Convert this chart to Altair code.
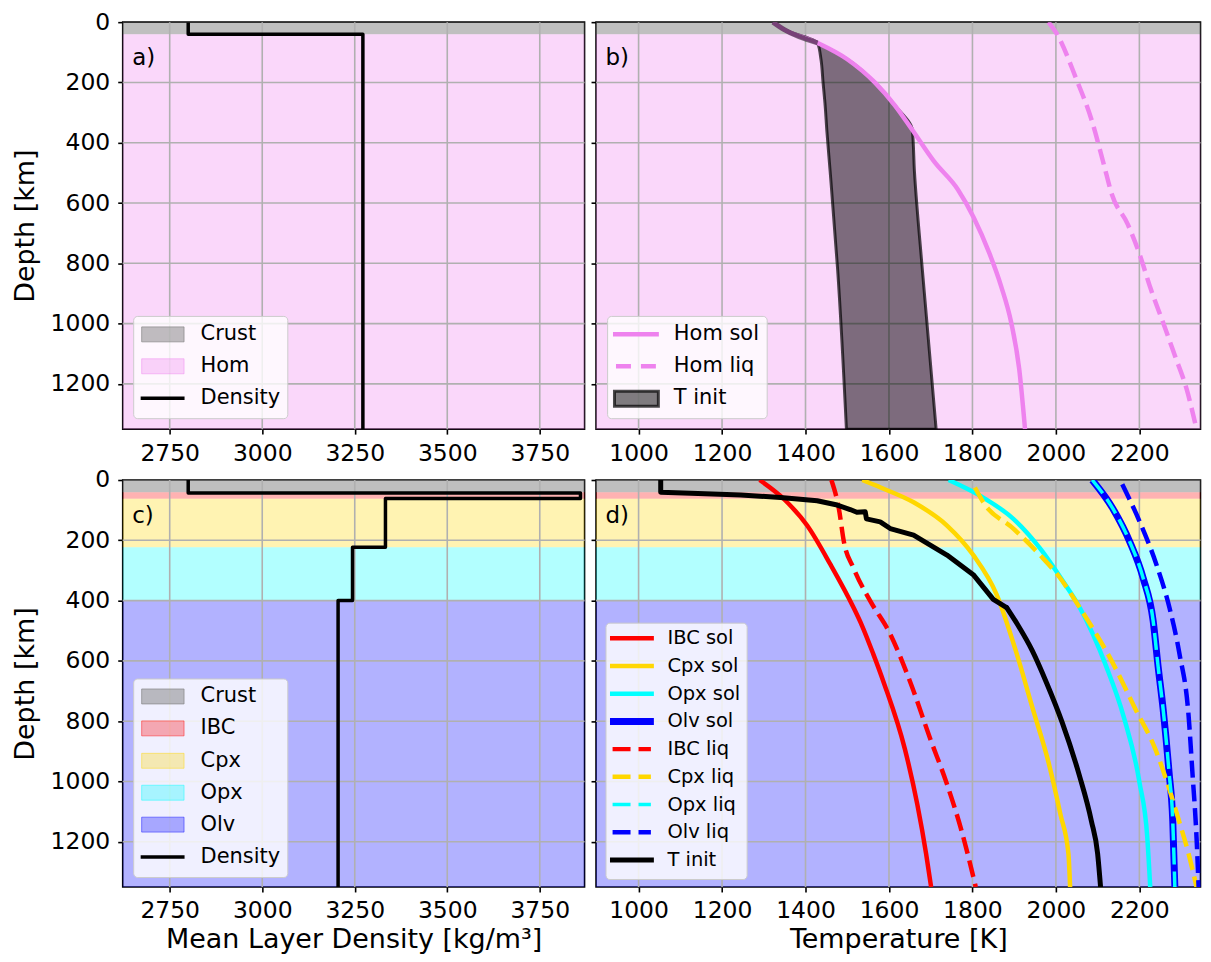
import altair as alt
import pandas as pd

FONT = "DejaVu Sans"
W_L, W_R, H = 463, 606, 408

# ---------------- axes ----------------
Y_DOMAIN = [0, 1350]
Y_TICKS = [0, 200, 400, 600, 800, 1000, 1200]
RHO_DOMAIN = [2623, 3871]
RHO_TICKS = [2750, 3000, 3250, 3500, 3750]
T_DOMAIN = [898, 2346.5]
T_TICKS = [1000, 1200, 1400, 1600, 1800, 2000, 2200]

# ---------------- layer bands ----------------
HOM_NAMES = ["Crust", "Hom"]
HOM_TOP = [0, 40]
HOM_BOT = [40, 1350]

CUM_NAMES = ["Crust", "IBC", "Cpx", "Opx", "Olv"]
CUM_TOP = [0, 41, 62, 223, 399]
CUM_BOT = [41, 62, 223, 399, 1350]

# ---------------- density profiles ----------------
DENS_A_DEPTH = [0, 40, 40, 1350]
DENS_A_RHO = [2800, 2800, 3272, 3272]

DENS_C_DEPTH = [0, 43, 43, 61, 61, 223, 223, 400, 400, 1350]
DENS_C_RHO = [2800, 2800, 3860, 3860, 3333, 3333, 3244, 3244, 3205, 3205]

# ---------------- panel b ----------------
HOM_SOL_DEPTH = [0, 25, 69, 123, 200, 276, 358, 462, 555, 648, 768, 877, 997, 1150, 1350]
HOM_SOL_T = [1322, 1349, 1429, 1500, 1566, 1614, 1656, 1708, 1765, 1803, 1841, 1869, 1893, 1912, 1926]

HOM_LIQ_DEPTH = [0, 36, 189, 331, 473, 571, 670, 768, 888, 997, 1106, 1216, 1350]
HOM_LIQ_T = [1982, 2001, 2049, 2087, 2115, 2134, 2172, 2200, 2228, 2257, 2285, 2313, 2337]

TINIT_B_DEPTH = [0, 25, 69, 123, 200, 276, 358, 495, 822, 1350]
TINIT_B_LOW = [1322, 1349, 1429, 1437, 1442, 1447, 1451, 1459, 1477, 1498]
TINIT_B_HIGH = [1322, 1349, 1429, 1500, 1566, 1614, 1656, 1661, 1680, 1713]

# ---------------- panel d ----------------
IBC_SOL_DEPTH = [0, 63, 151, 281, 423, 482, 576, 674, 892, 1077, 1240, 1350]
IBC_SOL_T = [1290, 1348, 1404, 1460, 1515, 1535, 1562, 1588, 1638, 1668, 1689, 1701]

CPX_SOL_DEPTH = [0, 25, 74, 151, 249, 380, 576, 761, 935, 1110, 1240, 1350]
CPX_SOL_T = [1536, 1580, 1659, 1739, 1802, 1858, 1906, 1945, 1982, 2011, 2030, 2034]

OPX_SOL_DEPTH = [0, 52, 129, 227, 336, 423, 620, 783, 1001, 1186, 1350]
OPX_SOL_T = [1743, 1818, 1898, 1962, 2017, 2057, 2121, 2162, 2200, 2219, 2226]

OLV_SOL_DEPTH = [0, 96, 205, 325, 467, 620, 761, 968, 1131, 1350]
OLV_SOL_T = [2087, 2137, 2177, 2209, 2233, 2245, 2257, 2271, 2280, 2285]

IBC_LIQ_DEPTH = [0, 96, 205, 292, 401, 511, 674, 859, 1001, 1164, 1350]
IBC_LIQ_T = [1462, 1480, 1492, 1515, 1555, 1603, 1652, 1699, 1737, 1774, 1808]

CPX_LIQ_DEPTH = [25, 74, 161, 249, 325, 423, 609, 761, 892, 1001, 1131, 1240, 1350]
CPX_LIQ_T = [1806, 1826, 1898, 1962, 2010, 2057, 2137, 2191, 2238, 2266, 2295, 2318, 2337]

OPX_LIQ_DEPTH = [0, 96, 205, 325, 467, 620, 761, 968, 1131, 1350]
OPX_LIQ_T = [2087, 2137, 2177, 2209, 2233, 2245, 2257, 2271, 2280, 2285]

OLV_LIQ_DEPTH = [14, 139, 281, 423, 576, 783, 968, 1186, 1350]
OLV_LIQ_T = [2159, 2201, 2241, 2272, 2296, 2318, 2327, 2337, 2342]

TINIT_D_DEPTH = [0, 41, 44, 50, 58, 69, 83, 98, 107, 105, 129, 139, 161, 183, 249, 314,
                 396, 423, 477, 565, 674, 804, 979, 1131, 1240, 1350]
TINIT_D_T = [1053, 1053, 1125, 1245, 1340, 1428, 1476, 1507, 1523, 1543, 1546, 1579, 1603,
             1659, 1739, 1802, 1850, 1882, 1907, 1943, 1978, 2015, 2056, 2085, 2100, 2107]
TINIT_D_SPLIT = 17  # kink at the Opx/Olv boundary; the deeper part is a smooth curve

# ---------------- styles ----------------
BAND_COLOR = {"Crust": "#808080", "Hom": "#EE82EE", "IBC": "#FF0000",
              "Cpx": "#FFD700", "Opx": "#00FFFF", "Olv": "#0000FF"}
BAND_ALPHA = {"Crust": 0.5, "Hom": 0.32, "IBC": 0.3, "Cpx": 0.3, "Opx": 0.3, "Olv": 0.3}
DASH = [17, 7]

ONE = pd.DataFrame({"k": [0]})


def X(field, panel):
    if panel in ("a", "c"):
        dom, ticks = RHO_DOMAIN, RHO_TICKS
    else:
        dom, ticks = T_DOMAIN, T_TICKS
    title = {"a": None, "b": None, "c": "Mean Layer Density [kg/m³]", "d": "Temperature [K]"}[panel]
    return alt.X(field, type="quantitative",
                 scale=alt.Scale(domain=dom, nice=False, zero=False),
                 axis=alt.Axis(values=ticks, format="d"), title=title)


def Y(field, panel):
    sc = alt.Scale(domain=Y_DOMAIN, reverse=True, nice=False, zero=False)
    if panel in ("a", "c"):
        return alt.Y(field, type="quantitative", scale=sc,
                     axis=alt.Axis(values=Y_TICKS, format="d"), title="Depth [km]")
    return alt.Y(field, type="quantitative", scale=sc,
                 axis=alt.Axis(values=Y_TICKS, labels=False), title=None)


def bands(names, tops, bots, W, panel):
    out = []
    for n, t, b in zip(names, tops, bots):
        df = pd.DataFrame({"top": [t], "bot": [b]})
        out.append(alt.Chart(df).mark_rect(fill=BAND_COLOR[n], fillOpacity=BAND_ALPHA[n]).encode(
            y=Y("top", panel), y2="bot:Q", x=alt.value(0), x2=alt.value(W)))
    return out


def grids(panel):
    ticks = RHO_TICKS if panel in ("a", "c") else T_TICKS
    gx = alt.Chart(pd.DataFrame({"v": ticks})).mark_rule(color="#b0b0b0", strokeWidth=1.6).encode(
        x=X("v", panel))
    gy = alt.Chart(pd.DataFrame({"v": Y_TICKS[1:]})).mark_rule(color="#b0b0b0", strokeWidth=1.6).encode(
        y=Y("v", panel))
    return [gx, gy]


def line(depths, vals, panel, color, width, dash=None, interp="linear", opacity=1.0, cap="butt"):
    df = pd.DataFrame({"d": depths, "v": vals, "i": list(range(len(depths)))})
    kw = dict(color=color, strokeWidth=width, clip=True, strokeJoin="round", interpolate=interp,
              opacity=opacity, strokeCap=cap)
    if dash:
        kw["strokeDash"] = dash
    return alt.Chart(df).mark_line(**kw).encode(x=X("v", panel), y=Y("d", panel), order="i:Q")


def lg_box(x0, y0, x1, y1):
    return alt.Chart(ONE).mark_rect(cornerRadius=4, fill="white", fillOpacity=0.8,
                                    stroke="#cccccc", strokeWidth=1).encode(
        x=alt.value(x0), x2=alt.value(x1), y=alt.value(y0), y2=alt.value(y1))


def lg_patch(x0, x1, yc, color, alpha, stroke=None, sw=1.0, so=None):
    return alt.Chart(ONE).mark_rect(fill=color, fillOpacity=alpha,
                                    stroke=stroke or color,
                                    strokeOpacity=so if so is not None else min(1.0, alpha + 0.15),
                                    strokeWidth=sw).encode(
        x=alt.value(x0), x2=alt.value(x1), y=alt.value(yc - 7.5), y2=alt.value(yc + 7.5))


def lg_line(x0, x1, yc, color, width, dash=None):
    kw = dict(color=color, strokeWidth=width)
    if dash:
        kw["strokeDash"] = dash
    return alt.Chart(ONE).mark_rule(**kw).encode(x=alt.value(x0), x2=alt.value(x1), y=alt.value(yc))


def lg_text(x, yc, label, size):
    return alt.Chart(ONE).mark_text(text=label, align="left", baseline="middle", font=FONT,
                                    fontSize=size, color="black").encode(
        x=alt.value(x), y=alt.value(yc))


def panel_label(txt):
    return alt.Chart(ONE).mark_text(text=txt, align="left", baseline="alphabetic", font=FONT,
                                    fontSize=23, color="black").encode(
        x=alt.value(9.5), y=alt.value(43))


# legend rows measured from the plot bottom so they stay in place
def from_bottom(v):
    return H - (412 - v)


# ---------------- panel a ----------------
la = bands(HOM_NAMES, HOM_TOP, HOM_BOT, W_L, "a") + grids("a")
la.append(line(DENS_A_DEPTH, DENS_A_RHO, "a", "black", 3.5))
rows = [from_bottom(v) for v in (317, 349, 381)]
la.append(lg_box(11, from_bottom(299), 165.5, from_bottom(401.5)))
la.append(lg_patch(19, 61.5, rows[0], BAND_COLOR["Crust"], 0.5))
la.append(lg_patch(19, 61.5, rows[1], BAND_COLOR["Hom"], 0.32))
la.append(lg_line(18, 62, rows[2], "black", 3.5))
for lab, r in zip(["Crust", "Hom", "Density"], rows):
    la.append(lg_text(78, r, lab, 21))
la.append(panel_label("a)"))
pa = alt.layer(*la).properties(width=W_L, height=H)

# ---------------- panel b ----------------
lb = bands(HOM_NAMES, HOM_TOP, HOM_BOT, W_R, "b") + grids("b")
tb = pd.DataFrame({"d": TINIT_B_DEPTH, "lo": TINIT_B_LOW, "hi": TINIT_B_HIGH})
lb.append(alt.Chart(tb).mark_area(orient="horizontal", fill="black", fillOpacity=0.5,
                                  stroke="black", strokeOpacity=0.7, strokeWidth=3, clip=True,
                                  interpolate="monotone").encode(
    y=Y("d", "b"), x=X("lo", "b"), x2="hi:Q"))
lb.append(line(HOM_SOL_DEPTH, HOM_SOL_T, "b", "#EE82EE", 4.5, interp="monotone"))
lb.append(line(HOM_LIQ_DEPTH, HOM_LIQ_T, "b", "#EE82EE", 4.5, [16, 7], interp="monotone"))
# upper part of the T init band, where both bounds coincide with the solidus
lb.append(line(TINIT_B_DEPTH[:3], TINIT_B_LOW[:3], "b", "#000000", 5, interp="monotone", opacity=0.5))
lb.append(lg_box(11.6, from_bottom(299), 171.6, from_bottom(401.5)))
lb.append(lg_line(17, 63, rows[0], "#EE82EE", 4.5))
lb.append(lg_line(20, 60, rows[1], "#EE82EE", 4.5, [15, 10]))
lb.append(lg_patch(18.5, 62.5, rows[2] + 0.5, "#000000", 0.5, stroke="#000000", sw=3, so=0.7))
for lab, r in zip(["Hom sol", "Hom liq", "T init"], rows):
    lb.append(lg_text(78, r, lab, 21))
lb.append(panel_label("b)"))
pb = alt.layer(*lb).properties(width=W_R, height=H)

# ---------------- panel c ----------------
lc = bands(CUM_NAMES, CUM_TOP, CUM_BOT, W_L, "c") + grids("c")
lc.append(line(DENS_C_DEPTH, DENS_C_RHO, "c", "black", 3.5))
rows_c = [from_bottom(v) for v in (221, 253, 285.5, 317.5, 349.5, 382)]
lc.append(lg_box(11, from_bottom(203.5), 165.5, from_bottom(402.5)))
for n, r in zip(CUM_NAMES, rows_c[:5]):
    lc.append(lg_patch(19, 61.5, r, BAND_COLOR[n], BAND_ALPHA[n]))
lc.append(lg_line(18, 62, rows_c[5], "black", 3.5))
for lab, r in zip(CUM_NAMES + ["Density"], rows_c):
    lc.append(lg_text(78, r, lab, 21))
lc.append(panel_label("c)"))
pc = alt.layer(*lc).properties(width=W_L, height=H)

# ---------------- panel d ----------------
ld = bands(CUM_NAMES, CUM_TOP, CUM_BOT, W_R, "d") + grids("d")
series_d = [
    ("IBC sol", IBC_SOL_DEPTH, IBC_SOL_T, "#FF0000", 4.5, None),
    ("Cpx sol", CPX_SOL_DEPTH, CPX_SOL_T, "#FFD700", 4.5, None),
    ("Opx sol", OPX_SOL_DEPTH, OPX_SOL_T, "#00FFFF", 4.5, None),
    ("Olv sol", OLV_SOL_DEPTH, OLV_SOL_T, "#0000FF", 7, None),
    ("IBC liq", IBC_LIQ_DEPTH, IBC_LIQ_T, "#FF0000", 4.5, DASH),
    ("Cpx liq", CPX_LIQ_DEPTH, CPX_LIQ_T, "#FFD700", 4.5, DASH),
    ("Opx liq", OPX_LIQ_DEPTH, OPX_LIQ_T, "#00FFFF", 3.5, DASH),
    ("Olv liq", OLV_LIQ_DEPTH, OLV_LIQ_T, "#0000FF", 4.5, DASH),
    ("T init", TINIT_D_DEPTH, TINIT_D_T, "#000000", 5, None),
]
for name, dd, tt, col, w, dash in series_d:
    if name == "T init":
        k = TINIT_D_SPLIT
        ld.append(line(dd[:k + 1], tt[:k + 1], "d", col, w, cap="round"))
        ld.append(line(dd[k:], tt[k:], "d", col, w, interp="monotone", cap="round"))
    else:
        ld.append(line(dd, tt, "d", col, w, dash, interp="monotone"))
ld.append(lg_box(10, from_bottom(147.5), 151.5, from_bottom(404.5)))
for i, (name, dd, tt, col, w, dash) in enumerate(series_d):
    yc = from_bottom(162.6 + i * 27.8)
    if dash:
        ld.append(lg_line(16.6, 55, yc, col, w, [18, 8]))
    else:
        ld.append(lg_line(14, 58, yc, col, w))
    ld.append(lg_text(71.6, yc, name, 19.5))
ld.append(panel_label("d)"))
pd_ = alt.layer(*ld).properties(width=W_R, height=H)

chart = alt.concat(pa, pb, pc, pd_, columns=2, spacing={"row": 51, "column": 11.5},
                   bounds="flush").properties(
    padding={"left": 2, "top": 0, "right": 0, "bottom": 0}
).configure_view(
    stroke="black", strokeWidth=1.6
).configure_axis(
    labelFont=FONT, labelFontSize=23.5, labelColor="black",
    titleFont=FONT, titleFontSize=27, titleFontWeight="normal", titleColor="black",
    tickColor="black", tickSize=5, tickWidth=1.6, domain=False, grid=False,
    labelOverlap=False
).configure_axisX(
    labelPadding=7, titlePadding=4
).configure_axisY(
    labelPadding=8, titlePadding=11
)

chart.save("out.html", embed_options={"renderer": "svg", "actions": False})
